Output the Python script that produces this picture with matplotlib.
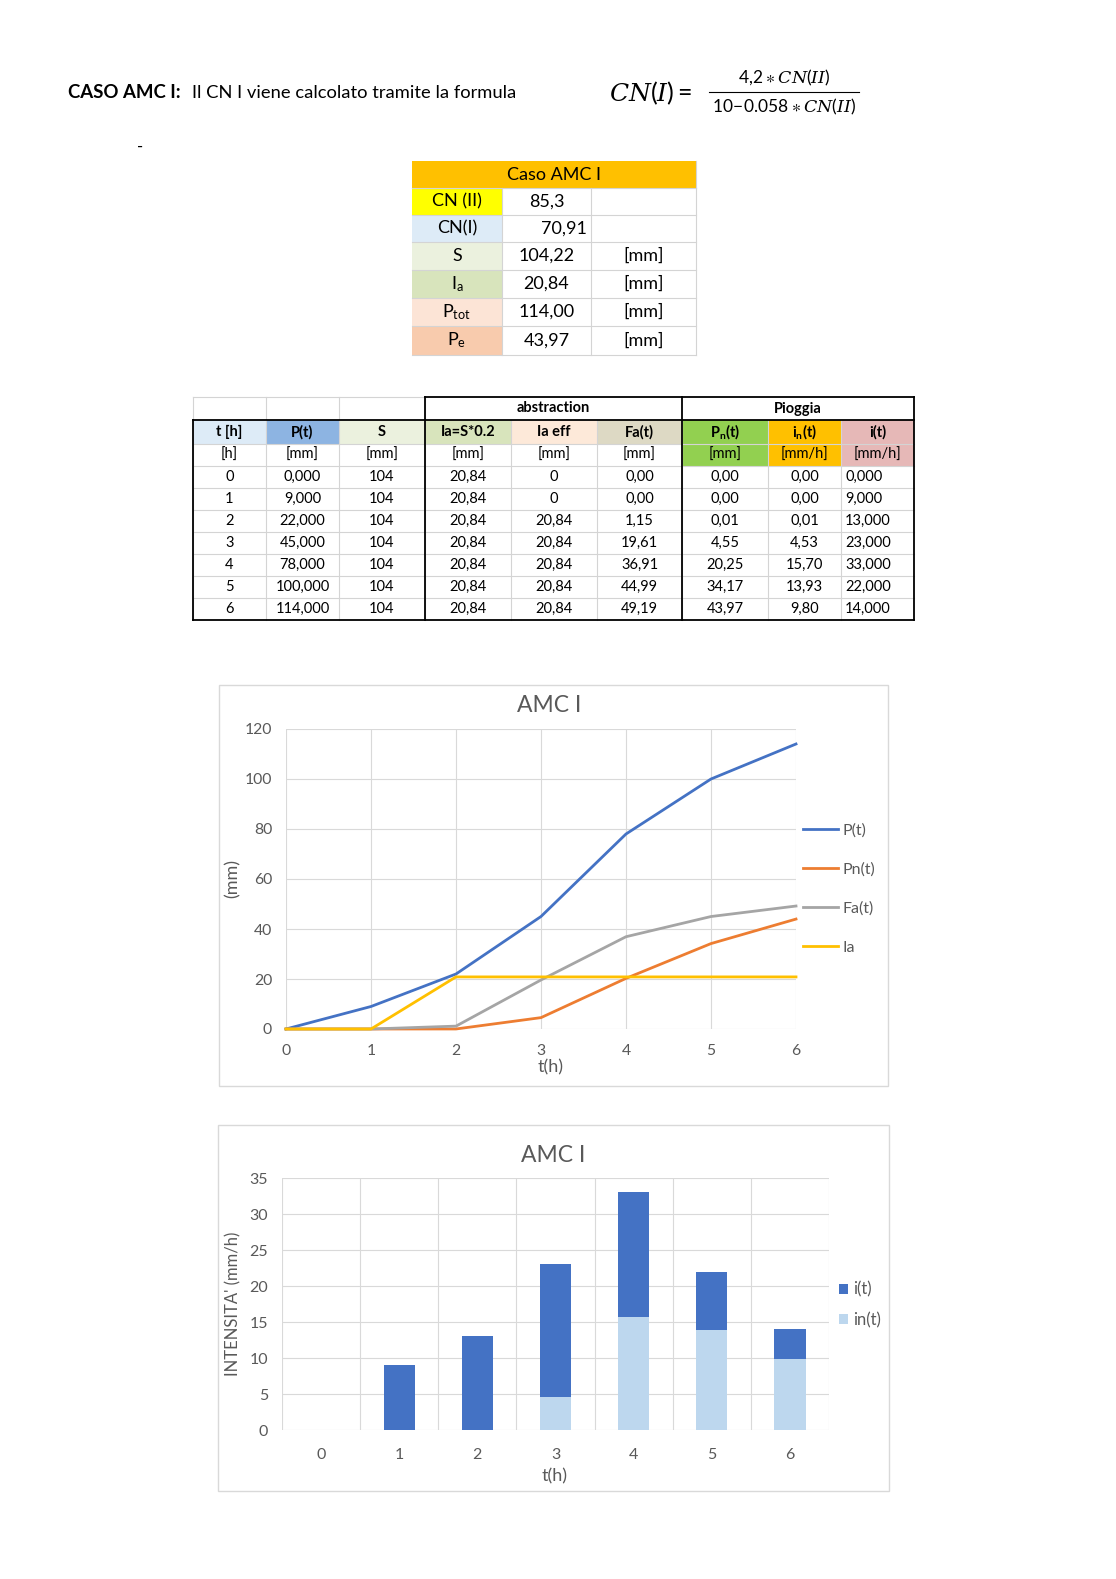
import matplotlib.pyplot as plt
from matplotlib.patches import Rectangle
import numpy as np

plt.rcParams['font.family'] = ['Lato', 'DejaVu Sans']
plt.rcParams['mathtext.default'] = 'regular'

W, H = 1116, 1579

# riepilogo caso AMC I
summary_labels = ['CN (II)', 'CN(I)', 'S', 'I$_a$', 'P$_{tot}$', 'P$_e$']
summary_values = ['85,3', '70,91', '104,22', '20,84', '114,00', '43,97']
summary_units = ['', '', '[mm]', '[mm]', '[mm]', '[mm]']

# tabella oraria
t_h = [0, 1, 2, 3, 4, 5, 6]
P_t = [0, 9, 22, 45, 78, 100, 114]
S_t = [104, 104, 104, 104, 104, 104, 104]
Ia_t = [20.84, 20.84, 20.84, 20.84, 20.84, 20.84, 20.84]
Ia_eff = [0, 0, 20.84, 20.84, 20.84, 20.84, 20.84]
Fa_t = [0, 0, 1.15, 19.61, 36.91, 44.99, 49.19]
Pn_t = [0, 0, 0.01, 4.55, 20.25, 34.17, 43.97]
in_t = [0, 0, 0.01, 4.53, 15.70, 13.93, 9.80]
i_t = [0, 9, 13, 23, 33, 22, 14]

headers = ['t [h]', 'P(t)', 'S', 'Ia=S*0.2', 'Ia eff', 'Fa(t)', 'P$_n$(t)', 'i$_n$(t)', 'i(t)']
units = ['[h]', '[mm]', '[mm]', '[mm]', '[mm]', '[mm]', '[mm]', '[mm/h]', '[mm/h]']


def fmt(v, d):
    return f"{v:.{d}f}".replace('.', ',')


fig = plt.figure(figsize=(W / 100, H / 100), dpi=100)
bg = fig.add_axes([0, 0, 1, 1])
bg.set_xlim(0, W)
bg.set_ylim(H, 0)
bg.axis('off')

# intestazione
bg.text(68, 93, 'CASO AMC I:', fontsize=13.4, fontweight='bold', va='center')
bg.text(192, 93, 'Il CN I viene calcolato tramite la formula', fontsize=13.2, va='center')
bg.text(609, 93, r'$\mathit{CN}(\mathit{I}) =$', math_fontfamily='dejavuserif', fontsize=18, va='center')
bg.text(784, 78, r'$4{,}2\ast\mathit{CN}(\mathit{II})$', math_fontfamily='dejavuserif',
        fontsize=12.5, ha='center', va='center')
bg.text(784, 107, r'$10\!-\!0.058\ast\mathit{CN}(\mathit{II})$', math_fontfamily='dejavuserif',
        fontsize=12.5, ha='center', va='center')
bg.plot([709, 859], [92, 92], color='black', lw=0.8)
bg.text(137, 147, '-', fontsize=12, va='center')

grid_c = '#D4D4D4'

# tabella riepilogo
sx = [412, 502, 591, 696]
sy = [161, 188, 215, 242, 270, 298, 326, 355]
label_colors = ['#FFFF00', '#DDEBF7', '#EBF1DE', '#D8E4BC', '#FCE4D6', '#F8CBAD']
bg.add_patch(Rectangle((sx[0], sy[0]), sx[3] - sx[0], sy[1] - sy[0], fc='#FFC000', ec='none'))
bg.text((sx[0] + sx[3]) / 2, (sy[0] + sy[1]) / 2, 'Caso AMC I', fontsize=13, ha='center', va='center')
for r in range(6):
    y0, y1 = sy[r + 1], sy[r + 2]
    yc = (y0 + y1) / 2
    bg.add_patch(Rectangle((sx[0], y0), sx[1] - sx[0], y1 - y0, fc=label_colors[r], ec='none'))
    bg.text((sx[0] + sx[1]) / 2, yc, summary_labels[r], fontsize=13, ha='center', va='center')
    if r == 1:
        bg.text(sx[2] - 4, yc, summary_values[r], fontsize=13, ha='right', va='center')
    else:
        bg.text((sx[1] + sx[2]) / 2, yc, summary_values[r], fontsize=13, ha='center', va='center')
    bg.text((sx[2] + sx[3]) / 2, yc, summary_units[r], fontsize=13, ha='center', va='center')
for y in sy[1:]:
    bg.plot([sx[0], sx[3]], [y, y], color=grid_c, lw=0.8)
for x in sx[1:]:
    bg.plot([x, x], [sy[1], sy[-1]], color=grid_c, lw=0.8)
bg.plot([sx[3], sx[3]], [sy[0], sy[1]], color=grid_c, lw=0.8)

# tabella principale
cx = [193, 266, 339, 425, 511, 597, 682, 768, 841, 914]
ry = [397, 420, 444, 466, 488, 510, 532, 554, 576, 598, 620]
head_colors = ['#DDEBF7', '#8DB4E2', '#EBF1DE', '#D8E4BC', '#FDE9D9', '#DDD9C4', '#92D050', '#FFC000', '#E6B8B7']
unit_colors = ['white'] * 6 + ['#92D050', '#FFC000', '#E6B8B7']
columns = [
    [str(v) for v in t_h],
    [fmt(v, 3) for v in P_t],
    [str(v) for v in S_t],
    [fmt(v, 2) for v in Ia_t],
    ['0' if v == 0 else fmt(v, 2) for v in Ia_eff],
    [fmt(v, 2) for v in Fa_t],
    [fmt(v, 2) for v in Pn_t],
    [fmt(v, 2) for v in in_t],
    [fmt(v, 3) for v in i_t],
]
fs = 10.5
for c in range(9):
    x0, x1 = cx[c], cx[c + 1]
    xc = (x0 + x1) / 2
    bg.add_patch(Rectangle((x0, ry[1]), x1 - x0, ry[2] - ry[1], fc=head_colors[c], ec='none'))
    bg.add_patch(Rectangle((x0, ry[2]), x1 - x0, ry[3] - ry[2], fc=unit_colors[c], ec='none'))
    bg.text(xc, (ry[1] + ry[2]) / 2, headers[c], fontsize=fs, fontweight='bold', ha='center', va='center')
    bg.text(xc, (ry[2] + ry[3]) / 2, units[c], fontsize=fs, ha='center', va='center')
    for r, s in enumerate(columns[c]):
        yc = (ry[r + 3] + ry[r + 4]) / 2
        if c == 8:
            bg.text(x0 + 4, yc, s, fontsize=fs, ha='left', va='center')
        else:
            bg.text(xc, yc, s, fontsize=fs, ha='center', va='center')
bg.text((cx[3] + cx[6]) / 2, (ry[0] + ry[1]) / 2, 'abstraction', fontsize=fs, fontweight='bold',
        ha='center', va='center')
bg.text((cx[6] + cx[9]) / 2, (ry[0] + ry[1]) / 2, 'Pioggia', fontsize=fs, fontweight='bold',
        ha='center', va='center')

for y in ry[2:-1]:
    bg.plot([cx[0], cx[-1]], [y, y], color=grid_c, lw=0.8)
bg.plot([cx[0], cx[3]], [ry[0], ry[0]], color=grid_c, lw=0.8)
for c, x in enumerate(cx[:-1]):
    bg.plot([x, x], [ry[0] if c <= 3 else ry[1], ry[-1]], color=grid_c, lw=0.8)

thick = dict(color='black', lw=1.3)
bg.plot([cx[3], cx[9]], [ry[0], ry[0]], **thick)
bg.plot([cx[0], cx[9]], [ry[1], ry[1]], **thick)
bg.plot([cx[0], cx[9]], [ry[-1], ry[-1]], **thick)
bg.plot([cx[0], cx[0]], [ry[1], ry[-1]], **thick)
for x in (cx[3], cx[6], cx[9]):
    bg.plot([x, x], [ry[0], ry[-1]], **thick)

# cornici dei grafici
bg.add_patch(Rectangle((219, 685), 669, 401, fc='white', ec='#D9D9D9', lw=1))
bg.add_patch(Rectangle((218, 1125), 671, 366, fc='white', ec='#D9D9D9', lw=1))

txt_c = '#595959'


def px_axes(x0, y0, x1, y1):
    return fig.add_axes([x0 / W, 1 - y1 / H, (x1 - x0) / W, (y1 - y0) / H])


# grafico 1: precipitazioni cumulate
ax1 = px_axes(286, 729, 796, 1029)
ax1.plot(t_h, P_t, color='#4472C4', lw=2, label='P(t)', clip_on=False)
ax1.plot(t_h, Pn_t, color='#ED7D31', lw=2, label='Pn(t)', clip_on=False)
ax1.plot(t_h, Fa_t, color='#A5A5A5', lw=2, label='Fa(t)', clip_on=False)
ax1.plot(t_h, Ia_eff, color='#FFC000', lw=2, label='Ia', clip_on=False)
ax1.set_xlim(0, 6)
ax1.set_ylim(0, 120)
ax1.set_xticks(t_h)
ax1.set_yticks(range(0, 121, 20))
ax1.grid(color='#D9D9D9', lw=0.8)
ax1.set_axisbelow(True)
for s in ax1.spines.values():
    s.set_visible(False)
ax1.tick_params(length=0, colors=txt_c, labelsize=11.3)
ax1.tick_params(axis='x', pad=11)
ax1.tick_params(axis='y', pad=10)
leg1 = ax1.legend(loc='center left', bbox_to_anchor=((803 - 286) / 510, (1029 - 889) / 300),
                  frameon=False, fontsize=11.5, borderpad=0, borderaxespad=0,
                  handlelength=2.2, handletextpad=0.3, labelspacing=1.56)
for t in leg1.get_texts():
    t.set_color(txt_c)
bg.text(549, 705, 'AMC I', fontsize=16.5, color=txt_c, ha='center', va='center')
bg.text(551, 1067, 't(h)', fontsize=13, color=txt_c, ha='center', va='center')
bg.text(233, 879, '(mm)', fontsize=13, color=txt_c, ha='center', va='center', rotation=90)

# grafico 2: intensita
ax2 = px_axes(282, 1178, 829, 1430)
ax2.bar(t_h, i_t, 0.4, color='#4472C4', label='i(t)')
ax2.bar(t_h, in_t, 0.4, color='#BDD7EE', label='in(t)')
ax2.set_xlim(-0.5, 6.5)
ax2.set_ylim(0, 35)
ax2.set_xticks(t_h)
ax2.set_xticks(np.arange(-0.5, 7, 1), minor=True)
ax2.set_yticks(range(0, 36, 5))
ax2.grid(axis='y', color='#D9D9D9', lw=0.8)
ax2.grid(axis='x', which='minor', color='#D9D9D9', lw=0.8)
ax2.set_axisbelow(True)
for s in ax2.spines.values():
    s.set_visible(False)
ax2.tick_params(which='both', length=0, colors=txt_c, labelsize=11.5)
ax2.tick_params(axis='x', pad=13)
ax2.tick_params(axis='y', pad=10)
leg2 = ax2.legend(loc='center left', bbox_to_anchor=((839 - 282) / 547, (1430 - 1305) / 252),
                  frameon=False, fontsize=12, borderpad=0, borderaxespad=0,
                  handlelength=0.55, handleheight=0.55, handletextpad=0.3, labelspacing=0.86)
for t in leg2.get_texts():
    t.set_color(txt_c)
bg.text(553, 1156, 'AMC I', fontsize=16.5, color=txt_c, ha='center', va='center')
bg.text(555, 1476, 't(h)', fontsize=13, color=txt_c, ha='center', va='center')
bg.text(233, 1304, "INTENSITA' (mm/h)", fontsize=12, color=txt_c, ha='center', va='center', rotation=90)

fig.savefig('out.png', dpi=100)
